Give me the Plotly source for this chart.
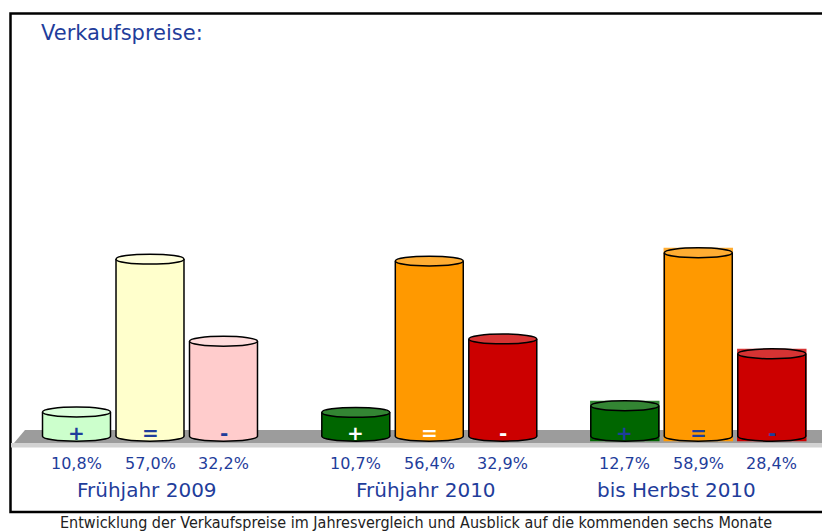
import plotly.graph_objects as go

# ---------------- data ----------------
groups = ["Frühjahr 2009", "Frühjahr 2010", "bis Herbst 2010"]
signs = ["+", "=", "-"]
values_2009 = [10.8, 57.0, 32.2]
values_2010 = [10.7, 56.4, 32.9]
values_h2010 = [12.7, 58.9, 28.4]
all_values = [values_2009, values_2010, values_h2010]
title_text = "Verkaufspreise:"
caption_text = "Entwicklung der Verkaufspreise im Jahresvergleich und Ausblick auf die kommenden sechs Monate"

# ---------------- styles ----------------
OFF = 8                      # page body margin of the html page
W, H = 830 - OFF, 531 - OFF
BLUE = "#1f3d9b"
FONT = "DejaVu Sans, Verdana, Arial"
body_colors = [
    ["#ccffcc", "#ffffcc", "#ffcccc"],
    ["#006600", "#ff9900", "#cc0000"],
    ["#006600", "#ff9900", "#cc0000"],
]
top_colors = [
    ["#dcffdc", "#ffffdc", "#ffdcdc"],
    ["#338533", "#ffad33", "#d63333"],
    ["#338533", "#ffad33", "#d63333"],
]
sign_colors = [BLUE, "white", BLUE]

GROUP_X = [1.0, 4.80, 8.46]      # category centres on the x scale
BAR_W = 0.925
FLOOR = 3.5                       # value level of cylinder bases
RY = 1.5                          # ellipse half height (value units)
X_RANGE = [-0.932, 10.252]
Y_RANGE = [-25.14, 132.87]


def px(x):
    return (x - OFF) / W


def py(y):
    return 1 - (y - OFF) / H


fig = go.Figure()

shapes = []
# frame
shapes.append(dict(type="rect", xref="paper", yref="paper",
                   x0=px(10.5), x1=px(840), y0=py(512), y1=py(13.5),
                   line=dict(color="black", width=2.5), fillcolor="rgba(0,0,0,0)",
                   layer="below"))
# floor
shapes.append(dict(type="path", xref="paper", yref="paper",
                   path=f"M {px(25)},{py(430)} L {px(840)},{py(430)} L {px(840)},{py(443)} L {px(14)},{py(443)} Z",
                   fillcolor="#9c9c9c", line=dict(width=0), layer="below"))
shapes.append(dict(type="path", xref="paper", yref="paper",
                   path=f"M {px(11)},{py(443)} L {px(840)},{py(443)} L {px(840)},{py(447.5)} L {px(11)},{py(447.5)} Z",
                   fillcolor="#d2d2d2", line=dict(width=0), layer="below"))

annotations = []
for g, vals in enumerate(all_values):
    xs = [GROUP_X[g] + i - 1 for i in range(3)]
    fig.add_trace(go.Bar(
        x=xs, y=[v - FLOOR for v in vals], base=FLOOR, width=BAR_W,
        marker=dict(color=body_colors[g], line=dict(width=0)),
        hoverinfo="skip", showlegend=False,
    ))
    for i, (x, v) in enumerate(zip(xs, vals)):
        x0, x1 = x - BAR_W / 2, x + BAR_W / 2
        if g == 2:
            # bounding box artefact visible behind the last group's cylinders
            shapes.append(dict(type="rect", xref="x", yref="y", x0=x0 - 0.01, x1=x1 + 0.01,
                               y0=FLOOR - RY, y1=v, fillcolor=body_colors[g][i],
                               line=dict(width=0), layer="below"))
            shapes.append(dict(type="rect", xref="x", yref="y", x0=x0 - 0.01, x1=x1 + 0.01,
                               y0=v, y1=v + RY, fillcolor=top_colors[g][i],
                               line=dict(width=0), layer="below"))
        # bottom ellipse (front arc shows below the body)
        shapes.append(dict(type="circle", xref="x", yref="y", x0=x0, x1=x1,
                           y0=FLOOR - RY, y1=FLOOR + RY, fillcolor=body_colors[g][i],
                           line=dict(color="black", width=1.5), layer="below"))
        # side edges
        for xe in (x0, x1):
            shapes.append(dict(type="line", xref="x", yref="y", x0=xe, x1=xe,
                               y0=FLOOR, y1=v, line=dict(color="black", width=1.5)))
        # top ellipse
        shapes.append(dict(type="circle", xref="x", yref="y", x0=x0, x1=x1,
                           y0=v - RY, y1=v + RY, fillcolor=top_colors[g][i],
                           line=dict(color="black", width=1.5)))
        # sign label inside the bar base
        annotations.append(dict(x=x, y=py(433), xref="x", yref="paper", text=f"<b>{signs[i]}</b>",
                                xanchor="center", yanchor="middle",
                                showarrow=False, font=dict(size=20, color=sign_colors[g], family=FONT)))
        # percentage label
        annotations.append(dict(x=x, y=py(463), xref="x", yref="paper",
                                text=f"{v:.1f}".replace(".", ",") + "%",
                                xanchor="center", yanchor="middle",
                                showarrow=False, font=dict(size=16, color=BLUE, family=FONT)))
    annotations.append(dict(x=GROUP_X[g], y=py(490), xref="x", yref="paper", text=groups[g],
                            xshift=-22 if g == 2 else -3, xanchor="center", yanchor="middle",
                            showarrow=False, font=dict(size=20, color=BLUE, family=FONT)))

annotations.append(dict(x=px(39), y=py(33), xref="paper", yref="paper", text=title_text,
                        xanchor="left", yanchor="middle", showarrow=False,
                        font=dict(size=21, color=BLUE, family=FONT)))
annotations.append(dict(x=px(416), y=py(522), xref="paper", yref="paper", text=caption_text,
                        xanchor="center", yanchor="middle", showarrow=False,
                        font=dict(size=16, color="#222222",
                                  family="Liberation Sans Narrow, DejaVu Sans Condensed, Arial")))

fig.update_layout(
    width=W, height=H, margin=dict(l=0, r=0, t=0, b=0),
    paper_bgcolor="white", plot_bgcolor="white",
    xaxis=dict(range=X_RANGE, visible=False, fixedrange=True),
    yaxis=dict(range=Y_RANGE, visible=False, fixedrange=True),
    shapes=shapes, annotations=annotations, bargap=0,
    showlegend=False,
)

fig.write_html("out.html")
